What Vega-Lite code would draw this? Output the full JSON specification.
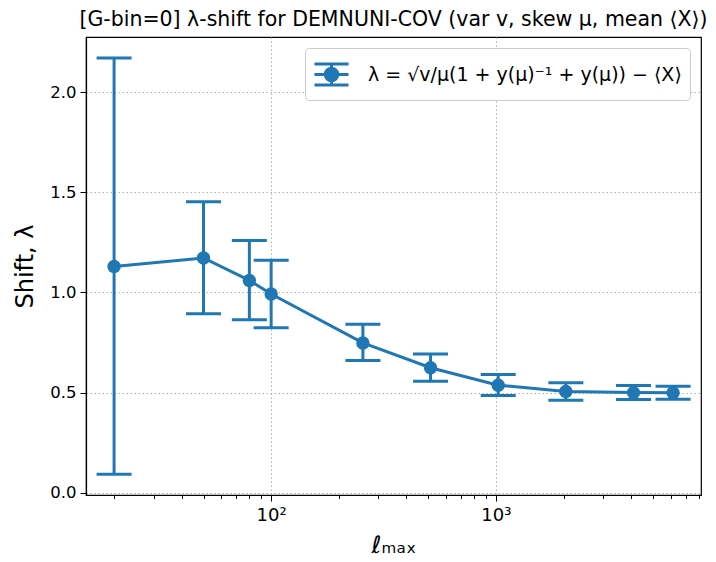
{
  "$schema": "https://vega.github.io/schema/vega-lite/v6.json",
  "width": 615,
  "height": 458,
  "autosize": {"type": "none"},
  "padding": {"left": 86, "top": 37, "right": 15, "bottom": 67},
  "background": "white",
  "config": {
    "font": "DejaVu Sans",
    "view": {"stroke": "black", "strokeWidth": 1.2},
    "axis": {
      "domainColor": "black",
      "domainWidth": 1.2,
      "tickColor": "black",
      "tickWidth": 1,
      "labelColor": "black",
      "titleColor": "black",
      "labelFont": "DejaVu Sans",
      "titleFont": "DejaVu Sans",
      "labelFontSize": 16.5,
      "titleFontSize": 24,
      "titleFontWeight": "normal",
      "gridColor": "#b0b0b0",
      "gridWidth": 1,
      "gridDash": [1.5, 2.5]
    }
  },
  "title": {
    "text": "[G-bin=0] λ-shift for DEMNUNI-COV (var v, skew μ, mean ⟨X⟩)",
    "fontSize": 20.5,
    "fontWeight": "normal",
    "font": "DejaVu Sans",
    "color": "black",
    "offset": 7,
    "anchor": "middle"
  },
  "data": {
    "values": [
      {"l": 20, "y": 1.13, "lo": 0.093, "hi": 2.170, "series": "λ = √v/μ(1 + y(μ)⁻¹ + y(μ)) − ⟨X⟩"},
      {"l": 50, "y": 1.172, "lo": 0.894, "hi": 1.453, "series": "λ = √v/μ(1 + y(μ)⁻¹ + y(μ)) − ⟨X⟩"},
      {"l": 80, "y": 1.060, "lo": 0.864, "hi": 1.259, "series": "λ = √v/μ(1 + y(μ)⁻¹ + y(μ)) − ⟨X⟩"},
      {"l": 100, "y": 0.992, "lo": 0.824, "hi": 1.161, "series": "λ = √v/μ(1 + y(μ)⁻¹ + y(μ)) − ⟨X⟩"},
      {"l": 256, "y": 0.748, "lo": 0.660, "hi": 0.841, "series": "λ = √v/μ(1 + y(μ)⁻¹ + y(μ)) − ⟨X⟩"},
      {"l": 512, "y": 0.624, "lo": 0.557, "hi": 0.693, "series": "λ = √v/μ(1 + y(μ)⁻¹ + y(μ)) − ⟨X⟩"},
      {"l": 1024, "y": 0.537, "lo": 0.486, "hi": 0.590, "series": "λ = √v/μ(1 + y(μ)⁻¹ + y(μ)) − ⟨X⟩"},
      {"l": 2048, "y": 0.506, "lo": 0.462, "hi": 0.549, "series": "λ = √v/μ(1 + y(μ)⁻¹ + y(μ)) − ⟨X⟩"},
      {"l": 4096, "y": 0.500, "lo": 0.466, "hi": 0.535, "series": "λ = √v/μ(1 + y(μ)⁻¹ + y(μ)) − ⟨X⟩"},
      {"l": 6144, "y": 0.499, "lo": 0.467, "hi": 0.532, "series": "λ = √v/μ(1 + y(μ)⁻¹ + y(μ)) − ⟨X⟩"}
    ]
  },
  "encoding": {
    "x": {
      "field": "l",
      "type": "quantitative",
      "scale": {"type": "log", "domain": [15, 8180], "nice": false},
      "axis": {
        "title": "ℓₘₐₓ",
        "titlePadding": 9,
        "values": [20, 30, 40, 50, 60, 70, 80, 90, 100, 200, 300, 400, 500, 600, 700, 800, 900, 1000, 2000, 3000, 4000, 5000, 6000, 7000, 8000],
        "labelExpr": "datum.value == 100 ? '10²' : (datum.value == 1000 ? '10³' : '')",
        "tickSize": {"condition": {"test": "datum.value == 100 || datum.value == 1000", "value": 6}, "value": 3.5},
        "gridOpacity": {"condition": {"test": "datum.value == 100 || datum.value == 1000", "value": 1}, "value": 0},
        "labelPadding": 5,
        "labelFontSize": 18
      }
    },
    "y": {
      "type": "quantitative",
      "scale": {"domain": [-0.011, 2.275], "nice": false, "zero": false},
      "axis": {
        "title": "Shift, λ",
        "titlePadding": 12,
        "values": [0, 0.5, 1, 1.5, 2],
        "format": ".1f",
        "tickSize": 6,
        "labelPadding": 4
      }
    }
  },
  "layer": [
    {
      "mark": {"type": "rule", "color": "#1f77b4", "strokeWidth": 3},
      "encoding": {"y": {"field": "lo", "type": "quantitative"}, "y2": {"field": "hi"}}
    },
    {
      "mark": {"type": "tick", "orient": "horizontal", "color": "#1f77b4", "size": 35, "thickness": 3, "opacity": 1},
      "encoding": {"y": {"field": "lo", "type": "quantitative"}}
    },
    {
      "mark": {"type": "tick", "orient": "horizontal", "color": "#1f77b4", "size": 35, "thickness": 3, "opacity": 1},
      "encoding": {"y": {"field": "hi", "type": "quantitative"}}
    },
    {
      "mark": {"type": "line", "color": "#1f77b4", "strokeWidth": 3},
      "encoding": {"y": {"field": "y", "type": "quantitative"}}
    },
    {
      "mark": {"type": "point", "filled": true, "size": 180, "opacity": 1},
      "encoding": {
        "y": {"field": "y", "type": "quantitative"},
        "color": {
          "field": "series",
          "type": "nominal",
          "scale": {"range": ["#1f77b4"]},
          "legend": {
            "title": null,
            "orient": "top-right",
            "offset": 11,
            "padding": 8,
            "fillColor": "white",
            "strokeColor": "#cccccc",
            "cornerRadius": 4,
            "labelFontSize": 19,
            "labelFont": "DejaVu Sans",
            "labelColor": "black",
            "labelLimit": 500,
            "labelOffset": 18,
            "symbolType": "M-1,-0.62H1M-1,0H1M-1,0.62H1M0,-0.62V0.62M0.37,0A0.37,0.37,0,1,1,-0.37,0A0.37,0.37,0,1,1,0.37,0Z",
            "symbolSize": 1156,
            "symbolFillColor": "#1f77b4",
            "symbolStrokeColor": "#1f77b4",
            "symbolStrokeWidth": 3,
            "symbolOpacity": 1
          }
        }
      }
    }
  ]
}
